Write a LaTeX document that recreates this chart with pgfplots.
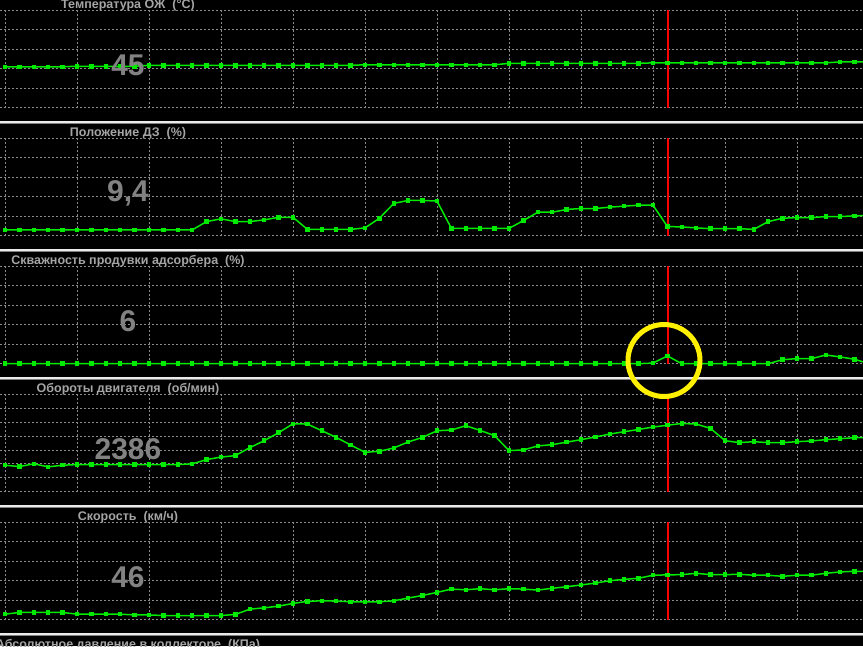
\documentclass[border=0pt]{standalone}
\usepackage{pgfplots}
\pgfplotsset{compat=1.18}
\usepackage{fontspec}
\setmainfont{Liberation Sans}
\definecolor{lgreen}{RGB}{0,235,0}
\definecolor{gridc}{RGB}{140,140,140}
\definecolor{titlec}{RGB}{165,165,165}
\definecolor{numc}{RGB}{130,130,130}
\definecolor{ycirc}{RGB}{255,240,0}
\definecolor{sepc}{RGB}{235,235,235}
\pgfplotsset{
 panel/.style={
  scale only axis, width=863pt, height=97.5pt,
  xmin=-0.3472, xmax=59.583,
  xtick={0,5,...,55},
  xticklabels={}, yticklabels={},
  major tick length=0pt, tick style={draw=none},
  axis line style={draw=none},
  grid=major,
  major grid style={draw=gridc, line width=0.8pt, dash pattern=on 2pt off 2pt},
  clip=false,
  anchor=south west,
 },
 gline/.style={lgreen, line width=1.5pt, mark=square*, mark size=1.5pt, mark options={solid, fill=lgreen, draw=lgreen}},
 cursor/.style={red, line width=1.3pt},
}
\begin{document}
\begin{tikzpicture}
\useasboundingbox (0pt,0pt) rectangle (863pt,-646pt);
\clip (0pt,0pt) rectangle (863pt,-646pt);
\fill[black] (0pt,0pt) rectangle (863pt,-646pt);

% ---- Panel 1: coolant temperature
\begin{axis}[panel, at={(0pt,-107.7pt)}, ymin=0, ymax=100, ytick={0,20,...,100}]
\addplot[gline] coordinates {
(0,42)(1,42)(2,42)(3,42)(4,42)(5,42.5)(6,42.5)(7,42.5)(8,42.5)(9,42.5)
(10,43.5)(11,43.5)(12,43.5)(13,43.5)(14,43.5)(15,43.5)(16,43.5)(17,43.5)(18,43.5)(19,43.5)
(20,43.5)(21,43.5)(22,43.5)(23,43.5)(24,43.5)(25,44)(26,44)(27,44)(28,44)(29,44)
(30,44)(31,44)(32,44)(33,44)(34,44)(35,45.5)(36,45.5)(37,45.5)(38,45.5)(39,45.5)
(40,45.5)(41,45.5)(42,45.5)(43,45.5)(44,45.5)(45,46)(46,46)(47,46)(48,46)(49,46)
(50,46)(51,46)(52,46)(53,46)(54,46)(55,46)(56,46)(57,46)(58,47)(59,47)(60,47)};
\addplot[cursor] coordinates {(46.04,0)(46.04,100)};
\end{axis}

% ---- Panel 2: throttle position
\begin{axis}[panel, at={(0pt,-235.7pt)}, ymin=0, ymax=100, ytick={0,20,...,100}]
\addplot[gline] coordinates {
(0,5.9)(1,5.9)(2,5.9)(3,5.9)(4,5.9)(5,5.9)(6,5.9)(7,5.9)(8,5.9)(9,5.9)
(10,5.9)(11,5.9)(12,5.9)(13,5.9)(14,14.5)(15,17.3)(16,14.5)(17,14.5)(18,16.2)(19,18.9)
(20,18.9)(21,6.5)(22,6.5)(23,6.5)(24,6.5)(25,8.0)(26,17.9)(27,33.1)(28,36.2)(29,36.2)
(30,35.5)(31,7.5)(32,7.5)(33,7.5)(34,7.5)(35,7.5)(36,15.5)(37,24.1)(38,24.1)(39,26.9)
(40,27.9)(41,27.9)(42,29.3)(43,30.3)(44,31.3)(45,31.3)(46,9.4)(47,9.0)(48,8.0)(49,7.2)
(50,7.2)(51,7.2)(52,6.5)(53,14.5)(54,17.9)(55,18.6)(56,18.6)(57,19.6)(58,19.6)(59,20.4)(60,20.6)};
\addplot[cursor] coordinates {(46.04,0)(46.04,100)};
\end{axis}

% ---- Panel 3: canister purge duty
\begin{axis}[panel, at={(0pt,-363.7pt)}, ymin=0, ymax=75, ytick={0,15,...,75}]
\addplot[gline] coordinates {
(0,0)(1,0)(2,0)(3,0)(4,0)(5,0)(6,0)(7,0)(8,0)(9,0)
(10,0)(11,0)(12,0)(13,0)(14,0)(15,0)(16,0)(17,0)(18,0)(19,0)
(20,0)(21,0)(22,0)(23,0)(24,0)(25,0)(26,0)(27,0)(28,0)(29,0)
(30,0)(31,0)(32,0)(33,0)(34,0)(35,0)(36,0)(37,0)(38,0)(39,0)
(40,0)(41,0)(42,0)(43,0)(44,0)(45,0.5)(46,6)(47,0)(48,0)(49,0)
(50,0)(51,0)(52,0)(53,0)(54,3.1)(55,3.9)(56,3.9)(57,6.7)(58,5.2)(59,3.4)(60,0)};
\addplot[cursor] coordinates {(46.04,0)(46.04,75)};
\end{axis}

% ---- Panel 4: engine speed
\begin{axis}[panel, at={(0pt,-491.7pt)}, ymin=0, ymax=3500, ytick={0,500,...,3500}]
\addplot[gline] coordinates {
(0,950)(1,903)(2,1000)(3,893)(4,950)(5,975)(6,975)(7,975)(8,975)(9,975)
(10,975)(11,975)(12,975)(13,1000)(14,1153)(15,1243)(16,1296)(17,1582)(18,1832)(19,2118)
(20,2439)(21,2428)(22,2189)(23,1950)(24,1678)(25,1414)(26,1450)(27,1571)(28,1786)(29,1950)
(30,2189)(31,2214)(32,2368)(33,2200)(34,2011)(35,1475)(36,1500)(37,1643)(38,1689)(39,1778)
(40,1868)(41,1964)(42,2071)(43,2153)(44,2235)(45,2321)(46,2386)(47,2450)(48,2428)(49,2271)
(50,1832)(51,1761)(52,1796)(53,1761)(54,1761)(55,1796)(56,1821)(57,1868)(58,1903)(59,1939)(60,1950)};
\addplot[cursor] coordinates {(46.04,0)(46.04,3500)};
\end{axis}

% ---- Panel 5: vehicle speed
\begin{axis}[panel, at={(0pt,-619.7pt)}, ymin=0, ymax=100, ytick={0,20,...,100}]
\addplot[gline] coordinates {
(0,5.7)(1,7.4)(2,7.4)(3,7.4)(4,7.4)(5,5.7)(6,5.7)(7,5.7)(8,5.7)(9,4.9)
(10,4.9)(11,4.3)(12,4.3)(13,4.3)(14,4.3)(15,4.3)(16,5.4)(17,10.8)(18,12.2)(19,13.9)
(20,16.7)(21,18.8)(22,19.4)(23,19.1)(24,18.4)(25,18.4)(26,18.4)(27,19.4)(28,22.2)(29,24.9)
(30,28)(31,31.4)(32,30.7)(33,31.8)(34,30.7)(35,31.8)(36,31.4)(37,30.4)(38,32.2)(39,33.8)
(40,35.6)(41,37.6)(42,40)(43,41.4)(44,42.5)(45,45.6)(46,46)(47,46.2)(48,47.6)(49,46.2)
(50,46.2)(51,46.6)(52,45.6)(53,45.6)(54,44.5)(55,45.6)(56,45.6)(57,47.6)(58,49)(59,49.7)(60,49.7)};
\addplot[cursor] coordinates {(46.04,0)(46.04,100)};
\end{axis}

% separators
\foreach \k in {0,...,4} {
  \fill[sepc] (0pt,{(-120.5-128*\k)*1pt}) rectangle (863pt,{(-123-128*\k)*1pt});
  \fill[gray] (0pt,{(-123-128*\k)*1pt}) rectangle (863pt,{(-124.2-128*\k)*1pt});
}

% titles
\tikzset{ttl/.style={anchor=base, text=titlec, inner sep=0pt, font=\bfseries\fontsize{12.5}{14}\selectfont},
         big/.style={text=numc, inner sep=0pt, font=\bfseries\fontsize{30}{32}\selectfont}}
\node[ttl] at (128pt,-8pt) {Температура ОЖ~~(°C)};
\node[ttl] at (128pt,-136pt) {Положение ДЗ~~(\%)};
\node[ttl] at (128pt,-264pt) {Скважность продувки адсорбера~~(\%)};
\node[ttl] at (128pt,-392pt) {Обороты двигателя~~(об/мин)};
\node[ttl] at (128pt,-520pt) {Скорость~~(км/ч)};
\node[ttl] at (128pt,-648pt) {Абсолютное давление в коллекторе~~(КПа)};

\node[big] at (128pt,-65.5pt) {45};
\node[big] at (128pt,-193.5pt) {9,4};
\node[big] at (128pt,-321.5pt) {6};
\node[big] at (128pt,-449.5pt) {2386};
\node[big] at (128pt,-577.5pt) {46};

\draw[ycirc, line width=5pt] (664pt,-360.5pt) circle (36pt);
\end{tikzpicture}
\end{document}
